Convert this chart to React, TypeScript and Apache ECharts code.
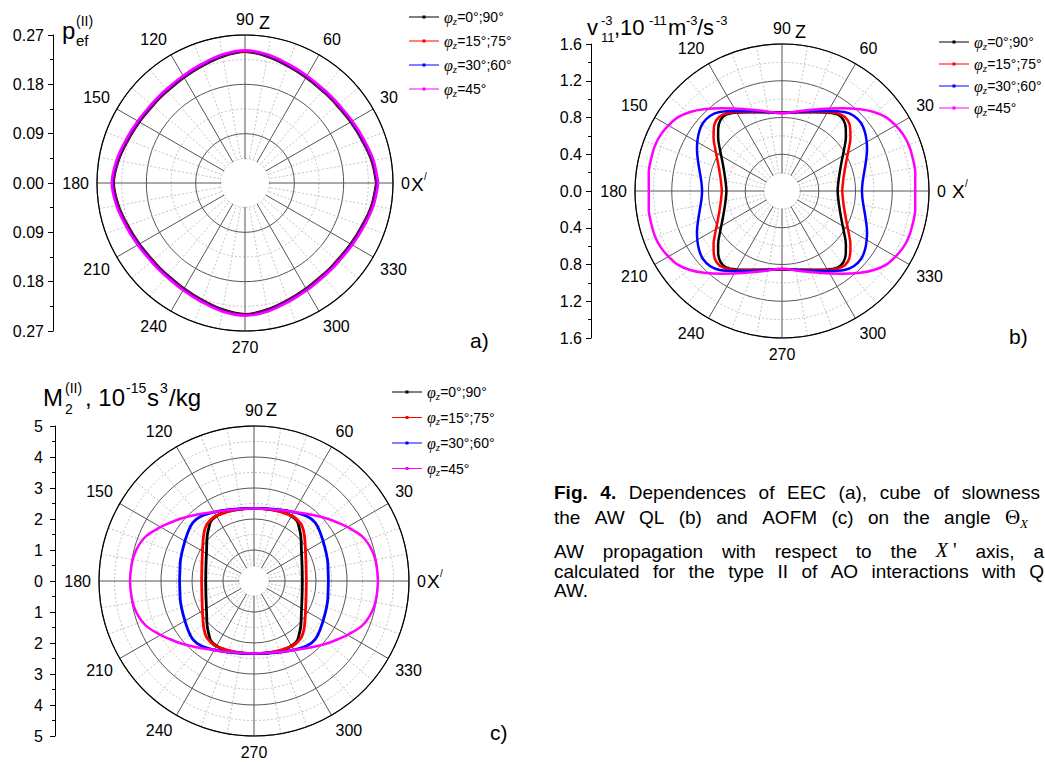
import React, { useEffect, useRef } from 'react';
import * as echarts from 'echarts';

// ---------- data (angle in degrees, radial value) : first quadrant, curves are symmetric ----------
const SERIES_NAMES = ['φz=0°;90°', 'φz=15°;75°', 'φz=30°;60°', 'φz=45°'];
const SERIES_COLORS = ['#000000', '#ff0000', '#0000ff', '#ff00ff'];

// panel a) p_ef^(II)
const A_BLACK: [number, number][] = [[0, 0.239], [10, 0.234], [20, 0.227], [30, 0.222], [40, 0.219], [45, 0.219], [50, 0.219], [60, 0.222], [70, 0.227], [80, 0.234], [90, 0.239]];
const A_RED: [number, number][] = [[0, 0.240], [10, 0.235], [20, 0.228], [30, 0.223], [40, 0.220], [45, 0.220], [50, 0.220], [60, 0.223], [70, 0.228], [80, 0.235], [90, 0.240]];
const A_BLUE: [number, number][] = [[0, 0.241], [10, 0.236], [20, 0.229], [30, 0.224], [40, 0.221], [45, 0.221], [50, 0.221], [60, 0.224], [70, 0.229], [80, 0.236], [90, 0.241]];
const A_MAGENTA: [number, number][] = [[0, 0.243], [10, 0.238], [20, 0.231], [30, 0.226], [40, 0.223], [45, 0.223], [50, 0.223], [60, 0.226], [70, 0.231], [80, 0.238], [90, 0.242]];

// panel b) v11^-3
const B_BLACK: [number, number][] = [[0, 0.605], [7.45, 0.617], [13.6, 0.638], [24.9, 0.711], [33.7, 0.811], [39.8, 0.905], [44.4, 0.972], [49.0, 1.021], [53.7, 1.030], [59.6, 0.989], [67.8, 0.927], [76.9, 0.880], [90, 0.855]];
const B_RED: [number, number][] = [[0, 0.655], [6.9, 0.667], [12.6, 0.687], [23.3, 0.757], [31.8, 0.853], [37.9, 0.944], [42.5, 1.007], [47.1, 1.051], [51.9, 1.054], [57.2, 1.017], [65.1, 0.950], [76.9, 0.881], [90, 0.855]];
const B_BLUE: [number, number][] = [[0, 0.870], [5.2, 0.879], [9.6, 0.898], [18.2, 0.958], [25.9, 1.029], [30.9, 1.072], [35.8, 1.110], [40.7, 1.135], [46.4, 1.132], [51.7, 1.096], [60.2, 1.005], [71.1, 0.918], [90, 0.850]];
const B_MAGENTA: [number, number][] = [[0, 1.450], [7.85, 1.464], [14.6, 1.467], [19.9, 1.468], [25.2, 1.454], [30.3, 1.425], [35.2, 1.389], [40.7, 1.319], [46.3, 1.231], [54.2, 1.110], [65.8, 0.976], [77.1, 0.893], [90, 0.845]];

// panel c) M2^(II)
const C_BLACK: [number, number][] = [[0, 1.56], [9.1, 1.575], [17.9, 1.629], [33.2, 1.828], [43.8, 2.093], [50.4, 2.273], [54.2, 2.378], [59.7, 2.420], [66.8, 2.415], [77.3, 2.358], [90, 2.34]];
const C_RED: [number, number][] = [[0, 1.69], [8.4, 1.703], [16.6, 1.753], [31.1, 1.938], [41.7, 2.182], [47.6, 2.329], [51.5, 2.391], [58.3, 2.434], [66.6, 2.396], [77.3, 2.368], [90, 2.34]];
const C_BLUE: [number, number][] = [[0, 2.40], [8.3, 2.415], [16.0, 2.466], [26.0, 2.536], [35.9, 2.642], [43.4, 2.724], [50.7, 2.700], [62.5, 2.536], [77.4, 2.387], [90, 2.34]];
const C_MAGENTA: [number, number][] = [[0, 4.00], [6.5, 3.985], [11.65, 3.962], [17.2, 3.894], [22.6, 3.770], [29.4, 3.502], [34.1, 3.320], [39.8, 3.124], [48.3, 2.854], [57.6, 2.616], [70.7, 2.426], [90, 2.34]];

const RADIAL_MAX = [0.27, 1.6, 5];
const RADIAL_STEP = [0.09, 0.4, 1];
const LEFT_DECIMALS = [2, 1, 0];
const ANGLE_STEP = 30;

// caption words
const CAP_L1 = ['Fig.', '4.', 'Dependences', 'of', 'EEC', '(a),', 'cube', 'of', 'slowness'];
const CAP_L2 = ['the', 'AW', 'QL', '(b)', 'and', 'AOFM', '(c)', 'on', 'the', 'angle', 'Θ|X'];
const CAP_L3 = ['AW', 'propagation', 'with', 'respect', 'to', 'the', "X'", 'axis,', 'a'];
const CAP_L4 = ['calculated', 'for', 'the', 'type', 'II', 'of', 'AO', 'interactions', 'with', 'Q'];
const CAP_L5 = ['AW.'];

// ---------- layout ----------
const LAYOUT = [
  { cx: 245, cy: 183, R: 148, axisX: 53, legX: 409, legY: 18, legGap: 25, labMargin: 9, lw: [2, 2, 2, 2.6] },
  { cx: 782, cy: 191, R: 147, axisX: 591, legX: 939, legY: 43, legGap: 23, labMargin: 9, lw: [2.5, 2.5, 2.5, 2.5] },
  { cx: 254, cy: 581, R: 155, axisX: 55, legX: 392, legY: 393, legGap: 26.5, labMargin: 12, lw: [2.8, 2.8, 2.8, 2.5] },
];
const SANS = 'Liberation Sans';
const SERIF = 'Liberation Serif';

const DATA = [
  [A_BLACK, A_RED, A_BLUE, A_MAGENTA],
  [B_BLACK, B_RED, B_BLUE, B_MAGENTA],
  [C_BLACK, C_RED, C_BLUE, C_MAGENTA],
];

// full closed curve from the first-quadrant readings (the curves are symmetric about both axes)
function fullCurve(q: [number, number][]): [number, number][] {
  const out: [number, number][] = [];
  q.forEach(([a, r]) => out.push([r, a]));
  for (let i = q.length - 2; i >= 0; i--) out.push([q[i][1], 180 - q[i][0]]);
  for (let i = 1; i < q.length; i++) out.push([q[i][1], 180 + q[i][0]]);
  for (let i = q.length - 2; i >= 0; i--) out.push([q[i][1], 360 - q[i][0]]);
  return out;
}

function txt(text: string, x: number, y: number, size: number, extra: any = {}) {
  return {
    type: 'text', x, y, z: 20, silent: true,
    style: { text, fontSize: size, fontFamily: SANS, fill: '#000', align: 'left', verticalAlign: 'middle', ...extra },
  };
}

let ctx: CanvasRenderingContext2D | null = null;
function measure(t: string, size: number, family: string, weight = 'normal', style = 'normal') {
  if (!ctx) ctx = document.createElement('canvas').getContext('2d');
  if (!ctx) return t.length * size * 0.5;
  ctx.font = `${style} ${weight} ${size}px "${family}"`;
  return ctx.measureText(t).width;
}

const CAP_SIZE = 19;
type Piece = { t: string; size: number; family: string; weight?: string; style?: string; dy?: number; dx?: number };
function wordPieces(w: string, bold: boolean): Piece[] {
  if (w === 'Θ|X') return [
    { t: 'Θ', size: 21, family: SERIF },
    { t: 'X', size: 13, family: SERIF, style: 'italic', dy: 6 },
  ];
  if (w === "X'") return [
    { t: 'X', size: 20, family: SERIF, style: 'italic', dy: -1 },
    { t: "'", size: 20, family: SERIF, dy: -1, dx: 5 },
  ];
  return [{ t: w, size: CAP_SIZE, family: SANS, weight: bold ? 'bold' : 'normal' }];
}

function captionLine(words: string[], x0: number, y: number, end: number | null, boldCount = 0) {
  const pieces = words.map((w, i) => wordPieces(w, i < boldCount));
  const widths = pieces.map((ps) => ps.reduce((s, p) => s + measure(p.t, p.size, p.family, p.weight, p.style) + (p.dx || 0), 0));
  const space = measure(' ', CAP_SIZE, SANS);
  let gap = space;
  if (end !== null && words.length > 1) {
    const total = widths.reduce((a, b) => a + b, 0);
    gap = Math.max(space, (end - x0 - total) / (words.length - 1));
  }
  const els: any[] = [];
  let x = x0;
  pieces.forEach((ps, i) => {
    let px = x;
    ps.forEach((p) => {
      px += p.dx || 0;
      els.push(txt(p.t, px, y + (p.dy || 0), p.size, { fontFamily: p.family, fontWeight: p.weight || 'normal', fontStyle: p.style || 'normal' }));
      px += measure(p.t, p.size, p.family, p.weight, p.style);
    });
    x += widths[i] + gap;
  });
  return els;
}

function buildOption() {
  const polar: any[] = [];
  const angleAxis: any[] = [];
  const radiusAxis: any[] = [];
  const grid: any[] = [];
  const xAxis: any[] = [];
  const yAxis: any[] = [];
  const legend: any[] = [];
  const series: any[] = [];
  const graphic: any[] = [];

  LAYOUT.forEach((L, p) => {
    const max = RADIAL_MAX[p];
    const step = RADIAL_STEP[p];
    polar.push({ center: [L.cx, L.cy], radius: [0, L.R] });
    angleAxis.push({
      polarIndex: p, type: 'value', min: 0, max: 360, interval: ANGLE_STEP, startAngle: 0, clockwise: false,
      axisLine: { show: true, lineStyle: { color: '#000', width: 1.2 } },
      axisTick: { show: false },
      minorTick: { show: false, splitNumber: 3 },
      axisLabel: { show: true, margin: 8, fontSize: 16, fontFamily: SANS, color: '#000' },
      splitLine: { show: true, lineStyle: { color: '#555', width: 1 } },
      minorSplitLine: { show: true, lineStyle: { color: '#b4b4b4', width: 0.8, type: [2, 2] } },
    });
    radiusAxis.push({
      polarIndex: p, type: 'value', min: 0, max, interval: step,
      axisLine: { show: false }, axisTick: { show: false }, axisLabel: { show: false },
      minorTick: { show: false, splitNumber: 2 },
      splitLine: { show: true, lineStyle: { color: '#555', width: 1 } },
      minorSplitLine: { show: true, lineStyle: { color: '#b4b4b4', width: 0.8, type: [2, 2] } },
    });
    grid.push({ left: L.axisX, top: L.cy - L.R, width: 1, height: 2 * L.R });
    xAxis.push({ gridIndex: p, type: 'value', show: false, min: 0, max: 1 });
    yAxis.push({
      gridIndex: p, type: 'value', min: -max, max, interval: step, position: 'left',
      axisLine: { show: true, lineStyle: { color: '#000', width: 1 } },
      axisTick: { show: true, length: 5, lineStyle: { color: '#000' } },
      minorTick: { show: true, splitNumber: 2, length: 3, lineStyle: { color: '#000' } },
      splitLine: { show: false },
      axisLabel: {
        margin: L.labMargin, fontSize: 16, fontFamily: SANS, color: '#000',
        formatter: (v: number) => Math.abs(v).toFixed(LEFT_DECIMALS[p]),
      },
    });
    legend.push({
      orient: 'vertical', left: L.legX, top: L.legY - 9, itemWidth: 30, itemHeight: 3,
      itemGap: L.legGap - 18, padding: 0, selectedMode: false, symbolKeepAspect: false,
      icon: 'path://M0,1H30V2H0Z M13.5,0H16.5V3H13.5Z',
      data: SERIES_NAMES,
      formatter: (name: string) => `{p|φ}{s|z}{t|${name.slice(2)}}`,
      textStyle: {
        rich: {
          p: { fontFamily: SERIF, fontStyle: 'italic', fontSize: 16, lineHeight: 18, color: '#000' },
          s: { fontFamily: SERIF, fontStyle: 'italic', fontSize: 11, lineHeight: 6, verticalAlign: 'bottom', color: '#000' },
          t: { fontFamily: SANS, fontSize: 14, lineHeight: 18, color: '#000' },
        },
      },
    });
    DATA[p].forEach((q, k) => {
      series.push({
        type: 'line', name: SERIES_NAMES[k], coordinateSystem: 'polar', polarIndex: p,
        data: fullCurve(q), smooth: 0.35, symbol: 'none', silent: true, z: 2 + k,
        lineStyle: { color: SERIES_COLORS[k], width: L.lw[k] },
        itemStyle: { color: SERIES_COLORS[k] },
      });
    });
    // central hole
    const holeR = (L.R * step) / 2 / max - 0.8;
    graphic.push({ type: 'circle', z: 15, silent: true, shape: { cx: L.cx, cy: L.cy, r: holeR }, style: { fill: '#fff' } });
  });

  // axis names near the polar plots
  graphic.push(txt('Z', 259, 23, 18));
  graphic.push(txt('X', 411, 184, 19));
  graphic.push(txt('/', 424, 176, 10));
  graphic.push(txt('Z', 795, 32, 18));
  graphic.push(txt('X', 952, 191, 19));
  graphic.push(txt('/', 965, 183, 10));
  graphic.push(txt('Z', 266, 410, 18));
  graphic.push(txt('X', 427, 581, 19));
  graphic.push(txt('/', 440, 573, 10));

  // panel titles
  graphic.push(txt('p', 62, 30, 24));
  graphic.push(txt('(II)', 76, 21, 14));
  graphic.push(txt('ef', 76, 40, 15));

  graphic.push(txt('v', 587, 27.5, 22));
  graphic.push(txt('-3', 601, 20.5, 13));
  graphic.push(txt('11', 601, 37.5, 13));
  graphic.push(txt(',10', 614, 27.5, 22));
  graphic.push(txt('-11', 649, 20.5, 13));
  graphic.push(txt('m', 668, 27.5, 22));
  graphic.push(txt('-3', 686, 20.5, 13));
  graphic.push(txt('/s', 697, 27.5, 22));
  graphic.push(txt('-3', 716, 20.5, 13));

  graphic.push(txt('M', 43, 397, 24));
  graphic.push(txt('(II)', 65, 387.5, 14));
  graphic.push(txt('2', 65, 409, 14));
  graphic.push(txt(', 10', 85, 397, 24));
  graphic.push(txt('-15', 126, 387.5, 14));
  graphic.push(txt('s', 147, 397, 24));
  graphic.push(txt('3', 160, 387.5, 14));
  graphic.push(txt('/kg', 169, 397, 24));

  // panel letters
  graphic.push(txt('a)', 470, 340, 21));
  graphic.push(txt('b)', 1009, 336, 21));
  graphic.push(txt('c)', 490, 732, 21));

  // caption
  graphic.push(...captionLine(CAP_L1, 554, 492, 1040, 2));
  graphic.push(...captionLine(CAP_L2, 554, 517, 1028));
  graphic.push(...captionLine(CAP_L3, 554, 551, 1044));
  graphic.push(...captionLine(CAP_L4, 554, 571, 1044));
  graphic.push(...captionLine(CAP_L5, 554, 590, null));

  return {
    animation: false,
    backgroundColor: '#fff',
    textStyle: { fontFamily: SANS },
    polar, angleAxis, radiusAxis, grid, xAxis, yAxis, legend, series, graphic,
  };
}

export default function App() {
  const ref = useRef<HTMLDivElement>(null);
  useEffect(() => {
    if (!ref.current) return;
    const chart = echarts.init(ref.current, undefined, { renderer: 'svg' });
    chart.setOption(buildOption() as any);
    return () => chart.dispose();
  }, []);
  return <div ref={ref} style={{ position: 'fixed', left: 0, top: 0, width: 1045, height: 762, background: '#fff' }} />;
}
